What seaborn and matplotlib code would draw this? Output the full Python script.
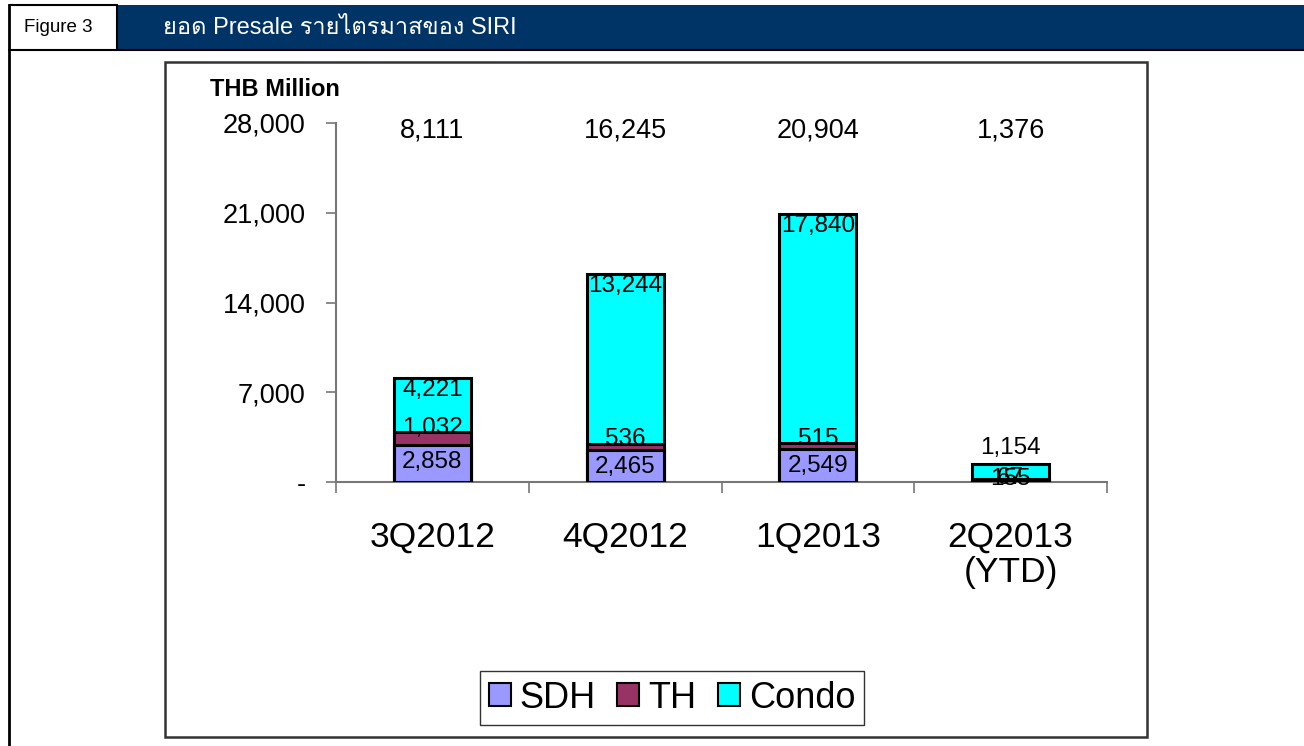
import matplotlib
matplotlib.use('Agg')
import matplotlib.pyplot as plt
from matplotlib import font_manager, ft2font
from matplotlib.patches import Rectangle, Patch
from matplotlib.lines import Line2D
import matplotlib.ticker as mticker
import numpy as np
import pandas as pd
import seaborn as sns

quarters = ['3Q2012', '4Q2012', '1Q2013', '2Q2013\n(YTD)']
sdh = [2858, 2465, 2549, 155]
th = [1032, 536, 515, 67]
condo = [4221, 13244, 17840, 1154]
y_ticks = [0, 7000, 14000, 21000, 28000]

COLORS = {'SDH': '#9999FF', 'TH': '#993366', 'Condo': '#00FFFF'}
NAVY = '#003366'


def thai_font():
    # find any installed font that has Thai glyphs
    for f in font_manager.fontManager.ttflist:
        try:
            if 0x0E22 in ft2font.FT2Font(f.fname).get_charmap():
                return f.name
        except Exception:
            pass
    return None


def main():
    sns.set_style('white')
    fams = ['Liberation Sans', 'DejaVu Sans']
    tf = thai_font()
    if tf:
        fams.insert(1, tf)
    plt.rcParams['font.family'] = fams
    plt.rcParams['text.color'] = 'black'
    plt.rcParams['xtick.color'] = 'black'
    plt.rcParams['ytick.color'] = 'black'

    W, H = 1304, 746
    fig = plt.figure(figsize=(W / 100, H / 100), dpi=100)

    def fx(px):
        return px / W

    def fy(py):
        return 1 - py / H

    # header band
    fig.patches.append(Rectangle((fx(117), fy(50)), fx(1304 - 117), fy(5) - fy(50),
                                 transform=fig.transFigure, facecolor=NAVY, edgecolor='none',
                                 zorder=-5))
    fig.add_artist(Line2D([fx(9), fx(9)], [fy(5), 0], transform=fig.transFigure, color='black', lw=2))
    fig.add_artist(Line2D([fx(9), 1], [fy(50), fy(50)], transform=fig.transFigure, color='black', lw=1.5))
    fig.add_artist(Line2D([fx(9), fx(117)], [fy(5), fy(5)], transform=fig.transFigure, color='black', lw=1.5))
    fig.add_artist(Line2D([fx(117), fx(117)], [fy(5), fy(50)], transform=fig.transFigure, color='black', lw=1.5))
    fig.text(fx(24), fy(28), 'Figure 3', fontsize=13.5, va='center', ha='left', color='black')
    fig.text(fx(163), fy(28), 'ยอด Presale รายไตรมาสของ SIRI', fontsize=17, va='center',
             ha='left', color='white')

    # chart area box
    fig.patches.append(Rectangle((fx(165), fy(737)), fx(1147 - 165), fy(62) - fy(737),
                                 transform=fig.transFigure, facecolor='white',
                                 edgecolor='#333333', lw=1.8, zorder=-5))

    ax = fig.add_axes([fx(336), fy(482), fx(1107 - 336), fy(123) - fy(482)])
    ax.set_facecolor('none')

    df = pd.DataFrame({'quarter': quarters, 'SDH': sdh, 'TH': th, 'Condo': condo})
    df['lvl_th'] = df['SDH'] + df['TH']
    df['total'] = df['lvl_th'] + df['Condo']

    # stacked bars drawn as overlapping cumulative bars
    for col, name in [('total', 'Condo'), ('lvl_th', 'TH'), ('SDH', 'SDH')]:
        sns.barplot(data=df, x='quarter', y=col, color=COLORS[name], saturation=1,
                    width=0.4, edgecolor='black', linewidth=2.2, ax=ax, zorder=3)

    ax.set_ylim(0, 28000)
    ax.set_xlim(-0.5, len(quarters) - 0.5)
    ax.set_yticks(y_ticks)
    ax.yaxis.set_major_formatter(mticker.FuncFormatter(lambda v, p: '-' if v == 0 else f'{v:,.0f}'))
    ax.tick_params(axis='y', which='major', direction='out', length=7, width=1.2,
                   color='#777777', labelsize=19.5, pad=15, left=True)
    ax.set_xticks(range(len(quarters)))
    ax.set_xticklabels(quarters)
    ax.set_xticks(np.arange(len(quarters) + 1) - 0.5, minor=True)
    ax.tick_params(axis='x', which='major', length=0, labelsize=25.5, pad=28)
    ax.tick_params(axis='x', which='minor', direction='out', length=8, width=1.2,
                   color='#777777', bottom=True)
    for lbl in ax.get_xticklabels():
        lbl.set_linespacing(1.1)
        lbl.set_va('top')
    ax.set_xlabel('')
    ax.set_ylabel('')
    for s in ['top', 'right']:
        ax.spines[s].set_visible(False)
    for s in ['left', 'bottom']:
        ax.spines[s].set_color('#777777')
        ax.spines[s].set_linewidth(1.5)

    # segment labels
    lab = dict(fontsize=17.5, ha='center', color='black', zorder=5)
    for i in range(len(quarters)):
        top_sdh = df['SDH'][i]
        top_th = df['lvl_th'][i]
        top_all = df['total'][i]
        if df['SDH'][i] > 1000:
            ax.annotate(f'{df["SDH"][i]:,}', (i, top_sdh), xytext=(0, -4),
                        textcoords='offset points', va='top', **lab)
            ax.annotate(f'{df["TH"][i]:,}', (i, top_th), xytext=(0, -5),
                        textcoords='offset points', va='bottom', **lab)
        else:
            # tiny segments: Excel piles both labels on the baseline
            ax.annotate(f'{df["SDH"][i]:,}', (i, top_sdh), xytext=(0, 1),
                        textcoords='offset points', va='center', **lab)
            ax.annotate(f'{df["TH"][i]:,}', (i, top_th), xytext=(0, 1),
                        textcoords='offset points', va='center', **lab)
        if df['Condo'][i] > 2000:
            ax.annotate(f'{df["Condo"][i]:,}', (i, top_all), xytext=(0, -1),
                        textcoords='offset points', va='top', **lab)
        else:
            ax.annotate(f'{df["Condo"][i]:,}', (i, top_all), xytext=(0, 4),
                        textcoords='offset points', va='bottom', **lab)
        # totals row along the top
        ax.text(i, 27450, f'{top_all:,}', fontsize=19.5, ha='center', va='center', color='black')

    fig.text(fx(210), fy(90), 'THB Million', fontsize=17, fontweight='bold', ha='left', va='center')

    handles = [Patch(facecolor=COLORS[n], edgecolor='black', linewidth=1.5, label=n)
               for n in ['SDH', 'TH', 'Condo']]
    leg = fig.legend(handles=handles, loc='center', bbox_to_anchor=(fx(672), fy(698)),
                     ncol=3, fontsize=26, frameon=True, fancybox=False, handlelength=0.6,
                     handleheight=0.6, handletextpad=0.25, columnspacing=0.6,
                     borderpad=0.25, edgecolor='black')
    leg.get_frame().set_linewidth(1.0)

    fig.savefig('out.png', dpi=100)
    plt.close(fig)


if __name__ == "__main__":
    main()
